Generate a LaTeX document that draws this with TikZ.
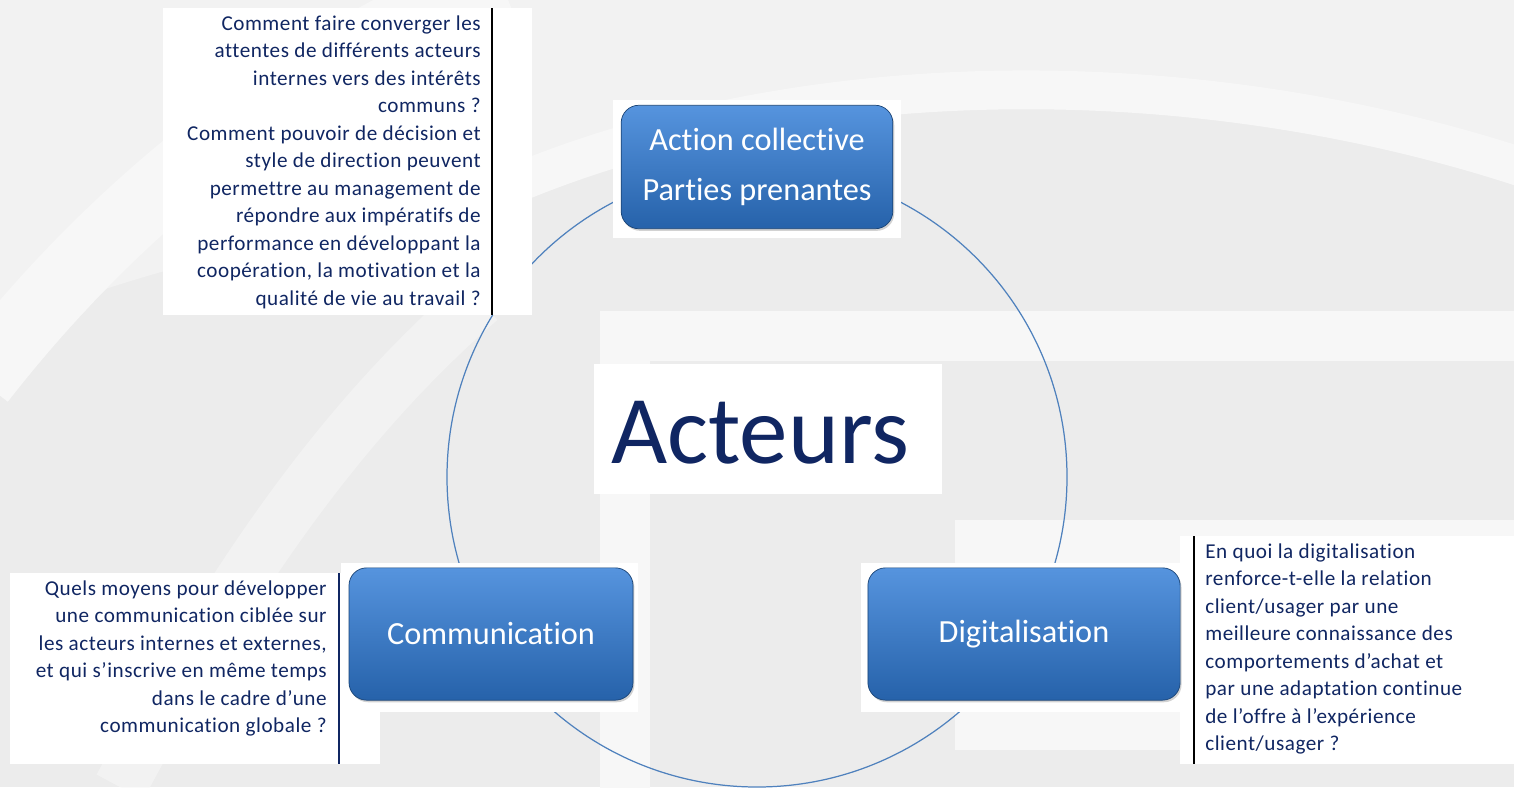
\documentclass[tikz,border=0pt]{standalone}
\usepackage{fontspec}
\setmainfont{Carlito}[Ligatures=NoCommon]
\newfontfamily\spaced{Carlito}[Ligatures=NoCommon, LetterSpace=2.5]
\usetikzlibrary{positioning, calc, shadows}
\definecolor{Navy}{RGB}{16,38,98}
\definecolor{BoxTop}{RGB}{86,148,222}
\definecolor{BoxBottom}{RGB}{38,98,170}
\definecolor{Ring}{RGB}{79,129,189}
\definecolor{Backdrop}{RGB}{236,236,236}
\definecolor{Pale}{RGB}{242,242,242}
\definecolor{Band}{RGB}{247,247,247}

\begin{document}
\begin{tikzpicture}[x=0.5669pt, y=-0.5669pt,
    theme/.style={rounded corners=10pt, top color=BoxTop, bottom color=BoxBottom,
      draw=BoxBottom!70!black, text=white, align=center, inner sep=0pt,
      font=\fontsize{18.3}{28.3}\selectfont,
      drop shadow={shadow xshift=0.8pt, shadow yshift=-1.2pt, opacity=0.35}},
    question/.style={text=Navy, inner sep=0pt, font=\spaced\fontsize{12}{15.6}\selectfont}]
    \useasboundingbox (0,0) rectangle (1514,787);
    % backdrop
    \begin{scope}
      \clip (0,0) rectangle (1514,787);
      \fill[Backdrop] (0,0) rectangle (1514,787);
      \fill[Pale] (0,0) -- (0,330) .. controls (150,260) and (350,230) .. (500,190)
        .. controls (800,60) and (1200,60) .. (1530,170) -- (1530,0) -- cycle;
      \draw[Band, line width=40pt] (-20,380) .. controls (120,200) and (300,60) .. (500,-20);
      \draw[Band, opacity=0.6, line width=30pt] (120,787) .. controls (220,600) and (330,430) .. (480,300);
      \draw[Band, line width=22pt] (500,190) .. controls (800,60) and (1200,60) .. (1530,170);
      \draw[Band, line width=28pt] (625,800) -- (625,336) -- (1530,336);
      \fill[Band] (955,520) rectangle (1514,750);
    \end{scope}

    % ring
    \draw[Ring, line width=0.7pt] (757,477) circle [radius=310];

    % white backings
    \fill[white] (163,8) rectangle (532,315);
    \fill[white] (10,573) rectangle (380,764);
    \fill[white] (1180,536) rectangle (1514,764);
    \fill[white] (613,100) rectangle (901,238);
    \fill[white] (341,563) rectangle (638,712);
    \fill[white] (861,563) rectangle (1187,712);
    \fill[white] (594,364) rectangle (942,494);

    % centre
    \node[text=Navy, font=\fontsize{55}{60}\selectfont] (acteurs) at (760,433) {Acteurs};

    % themes
    \node[theme, minimum width=154pt, minimum height=70pt] (action) at (757,167)
      {Action collective\\Parties prenantes};
    \node[theme, minimum width=161pt, minimum height=75pt] (comm) at (491,634)
      {Communication};
    \node[theme, minimum width=177pt, minimum height=75pt] (digit) at (1024,634)
      {Digitalisation};

    % questions
    \node[question, align=right, anchor=north east] (qaction) at (481,15)
      {Comment faire converger les\\attentes de différents acteurs\\internes vers des intérêts\\communs ?\\
       Comment pouvoir de décision et\\style de direction peuvent\\permettre au management de\\
       répondre aux impératifs de\\performance en développant la\\coopération, la motivation et la\\
       qualité de vie au travail ?};
    \draw[black, line width=0.6pt] (492,8) -- (492,315);

    \node[question, align=right, anchor=north east] (qcomm) at (327,580)
      {Quels moyens pour développer\\une communication ciblée sur\\les acteurs internes et externes,\\
       et qui s’inscrive en même temps\\dans le cadre d’une\\communication globale ?};
    \draw[Navy, line width=0.6pt] (339,573) -- (339,764);

    \node[question, align=left, anchor=north west] (qdigit) at (1205,543)
      {En quoi la digitalisation\\renforce-t-elle la relation\\client/usager par une\\
       meilleure connaissance des\\comportements d’achat et\\par une adaptation continue\\
       de l’offre à l’expérience\\client/usager ?};
    \draw[black, line width=0.6pt] (1194,536) -- (1194,764);
\end{tikzpicture}
\end{document}
